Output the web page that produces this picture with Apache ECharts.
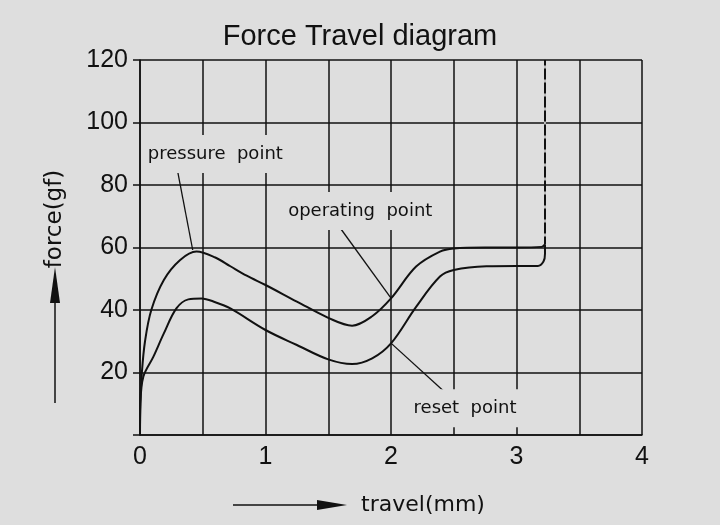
<!DOCTYPE html>
<html>
<head>
<meta charset="utf-8">
<script src="https://cdn.jsdelivr.net/npm/echarts@6/dist/echarts.min.js"></script>
<style>
    html, body { margin: 0; background: #dedede; }
    #main { width: 720px; height: 525px; }
</style>
</head>
<body>
<div id="main"></div>
<script>
// upper curve (pressure point -> operating point)
var pressCurve = [[0, 0], [0.003, 10], [0.015, 20], [0.04, 30], [0.09, 40], [0.19, 49.6], [0.32, 56],
    [0.45, 58.7], [0.6, 56.8], [0.72, 54], [0.85, 51], [1.0, 48], [1.25, 42.7], [1.5, 37.5], [1.69, 35],
    [1.85, 38], [2.0, 43.7], [2.2, 53.9], [2.39, 58.7], [2.5, 59.7], [2.75, 60], [3.0, 60], [3.2, 60.2], [3.227, 61]];
// lower curve (return stroke, reset point)
var resetCurve = [[0, 0], [0.003, 10], [0.027, 18.7], [0.106, 25], [0.19, 32.5], [0.29, 40.5], [0.385, 43.4],
    [0.49, 43.7], [0.6, 42.5], [0.72, 40.5], [1.0, 33.6], [1.25, 28.8], [1.5, 24.2], [1.69, 22.7], [1.85, 24.5],
    [2.0, 29.3], [2.2, 41], [2.39, 50.7], [2.5, 52.8], [2.76, 54], [3.0, 54.1], [3.17, 54.1], [3.215, 55.5],
    [3.227, 58], [3.227, 61]];
// bottoming out, dashed up to the top
var travelLimit = [[3.227, 61], [3.227, 120]];

var calloutNames = ['pressure  point', 'operating  point', 'reset  point'];
var calloutAt = [[0.6, 89.9], [1.755, 71.7], [2.59, 8.6]];
var leaderFrom = [[0.295, 85.4], [1.578, 67.2], [2.454, 12.8]];
var leaderTo = [[0.42, 59.2], [2.0, 43.8], [2.0, 29.4]];

var ink = '#111';
var chart = echarts.init(document.getElementById('main'));

var leaderSeries = leaderFrom.map(function (p, i) {
    return {
        type: 'line', data: [p, leaderTo[i]], showSymbol: false, z: 4,
        lineStyle: { color: ink, width: 1.3 }
    };
});

chart.setOption({
    backgroundColor: '#dedede',
    animation: false,
    title: {
        text: 'Force Travel diagram',
        left: 'center',
        top: 17,
        textStyle: { fontFamily: 'Liberation Sans', fontSize: 29, fontWeight: 'normal', color: ink }
    },
    grid: { left: 140, right: 78, top: 60, bottom: 90 },
    xAxis: {
        type: 'value', min: 0, max: 4, interval: 0.5,
        axisLine: { lineStyle: { color: ink, width: 1.5 } },
        axisTick: { show: false },
        splitLine: { lineStyle: { color: ink, width: 1.5 } },
        axisLabel: {
            formatter: function (v) { return Number.isInteger(v) ? String(v) : ''; },
            fontFamily: 'Liberation Sans', fontSize: 25, color: ink, margin: 10
        }
    },
    yAxis: {
        type: 'value', min: 0, max: 120, interval: 20,
        axisLine: { show: true, lineStyle: { color: ink, width: 1.5 } },
        axisTick: { show: true, length: 7, lineStyle: { color: ink, width: 1.5 } },
        splitLine: { lineStyle: { color: ink, width: 1.5 } },
        axisLabel: {
            formatter: function (v) { return v === 0 ? '' : String(v); },
            fontFamily: 'Liberation Sans', fontSize: 25, color: ink, margin: 12
        }
    },
    graphic: [
        { type: 'text', x: 55, y: 219, rotation: Math.PI / 2,
          style: { text: 'force(gf)', font: '23px "DejaVu Sans"', fill: ink, align: 'center', verticalAlign: 'middle',
                   textAlign: 'center', textVerticalAlign: 'middle' } },
        { type: 'line', shape: { x1: 55, y1: 403, x2: 55, y2: 300 }, style: { stroke: ink, lineWidth: 1.5 } },
        { type: 'polygon', shape: { points: [[55, 267], [50, 303], [60, 303]] }, style: { fill: ink } },
        { type: 'text', x: 423, y: 505,
          style: { text: 'travel(mm)', font: '22px "DejaVu Sans"', fill: ink, align: 'center', verticalAlign: 'middle',
                   textAlign: 'center', textVerticalAlign: 'middle' } },
        { type: 'line', shape: { x1: 233, y1: 505, x2: 320, y2: 505 }, style: { stroke: ink, lineWidth: 1.5 } },
        { type: 'polygon', shape: { points: [[347, 505], [317, 500], [317, 510]] }, style: { fill: ink } }
    ],
    series: [
        {
            type: 'line', data: pressCurve, smooth: 0.35, showSymbol: false,
            lineStyle: { color: ink, width: 2 }, z: 5
        },
        {
            type: 'line', data: resetCurve, smooth: 0.35, showSymbol: false,
            lineStyle: { color: ink, width: 2 }, z: 5
        },
        {
            type: 'line', data: travelLimit, showSymbol: false,
            lineStyle: { color: ink, width: 2 }, z: 5
        },
        {
            type: 'line', data: travelLimit, showSymbol: false,
            lineStyle: { color: '#f4f4f4', width: 1.5, type: [3, 11], dashOffset: -8 }, z: 6
        },
        {
            type: 'scatter', symbolSize: 0, z: 7,
            itemStyle: { opacity: 1 },
            data: calloutAt.map(function (p, i) { return { name: calloutNames[i], value: p }; }),
            label: {
                show: true, position: 'inside', formatter: '{b}', opacity: 1,
                fontFamily: 'DejaVu Sans', fontSize: 18, color: ink,
                backgroundColor: '#dedede', padding: [10, 3]
            }
        }
    ].concat(leaderSeries)
});
</script>
</body>
</html>
